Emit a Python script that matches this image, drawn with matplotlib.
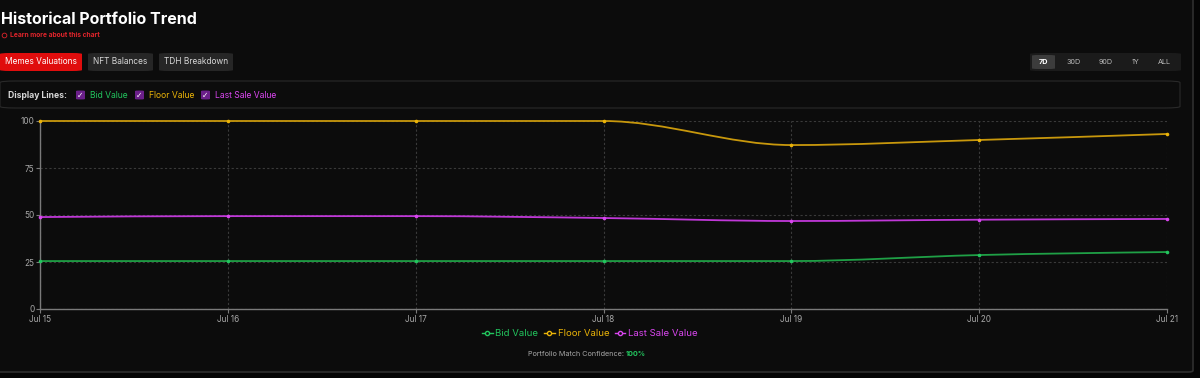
import matplotlib
matplotlib.use("Agg")
import matplotlib.pyplot as plt
import numpy as np
from matplotlib.path import Path
from matplotlib.patches import PathPatch, FancyBboxPatch
from matplotlib.lines import Line2D

plt.rcParams['font.family'] = ['Inter', 'DejaVu Sans']

# data
dates = ["Jul 15", "Jul 16", "Jul 17", "Jul 18", "Jul 19", "Jul 20", "Jul 21"]
bid_value = [25.5, 25.5, 25.5, 25.5, 25.5, 28.7, 30.3]
floor_value = [100, 100, 100, 100, 87.2, 89.9, 93.1]
last_sale_value = [48.9, 49.4, 49.4, 48.4, 46.8, 47.5, 47.9]
series_names = ["Bid Value", "Floor Value", "Last Sale Value"]
series_colors = ["#22c55e", "#eab308", "#d946ef"]
line_colors = ["#1fa046", "#c8980c", "#c038d8"]
tabs = ["Memes Valuations", "NFT Balances", "TDH Breakdown"]
ranges = ["7D", "30D", "90D", "1Y", "ALL"]

W, H = 1200, 378
BG = "#0c0c0c"


def monotone_path(x, y):
    # monotone cubic (like d3 curveMonotoneX) as bezier path
    x = np.asarray(x, float)
    y = np.asarray(y, float)
    h = np.diff(x)
    s = np.diff(y) / h
    n = len(x)
    t = np.zeros(n)
    for i in range(1, n - 1):
        s0, s1 = s[i - 1], s[i]
        p = (s0 * h[i] + s1 * h[i - 1]) / (h[i - 1] + h[i])
        t[i] = (np.sign(s0) + np.sign(s1)) * min(abs(s0), abs(s1), 0.5 * abs(p))
    t[0] = (3 * s[0] - t[1]) / 2 if n > 2 else s[0]
    t[-1] = (3 * s[-1] - t[-2]) / 2 if n > 2 else s[-1]
    verts = [(x[0], y[0])]
    codes = [Path.MOVETO]
    for i in range(n - 1):
        d = h[i] / 3
        verts += [(x[i] + d, y[i] + t[i] * d), (x[i + 1] - d, y[i + 1] - t[i + 1] * d), (x[i + 1], y[i + 1])]
        codes += [Path.CURVE4] * 3
    return Path(verts, codes)


fig = plt.figure(figsize=(12, 3.78), dpi=100, facecolor="#050505")

# panel background
fig.patches.append(FancyBboxPatch((-20 / W, 1 - 372 / H), 1213 / W, 392 / H,
                                  boxstyle="round,pad=0,rounding_size=0.004",
                                  transform=fig.transFigure, facecolor=BG,
                                  edgecolor="#2e2e2e", linewidth=1.2, zorder=-10))


def px_box(x0, y0, x1, y1, fc, ec="none", r=3):
    fig.patches.append(FancyBboxPatch((x0 / W, 1 - y1 / H), (x1 - x0) / W, (y1 - y0) / H,
                                      boxstyle="round,pad=0,rounding_size=%f" % (r / H),
                                      transform=fig.transFigure, facecolor=fc,
                                      edgecolor=ec, linewidth=0.8, zorder=1,
                                      mutation_aspect=H / W))


def px_text(x, y, s, **kw):
    fig.text(x / W, 1 - y / H, s, **kw)


# header
px_text(1, 19, "Historical Portfolio Trend", color="white", fontsize=11.5,
        fontweight="bold", va="center", ha="left")
fig.add_artist(Line2D([4 / W], [1 - 35 / H], marker="o", markersize=3.4,
                      markerfacecolor="none", markeredgecolor="#e0242b",
                      markeredgewidth=0.6, transform=fig.transFigure))
px_text(10, 35, "Learn more about this chart", color="#e0242b", fontsize=4.8,
        fontweight="bold", va="center")

# tabs
tab_x = [(0, 82), (88, 153), (159, 233)]
for i, (name, (a, b)) in enumerate(zip(tabs, tab_x)):
    px_box(a, 53, b, 71, "#e00d0d" if i == 0 else "#262626")
    px_text((a + b) / 2, 62, name, color="white" if i == 0 else "#d8d8d8",
            fontsize=6, ha="center", va="center")

# range selector
px_box(1030, 53, 1181, 71, "#1b1b1b")
px_box(1032, 55, 1055, 69, "#3c3c3c", r=2)
range_x = [1043.5, 1074, 1106, 1136, 1164]
for name, x in zip(ranges, range_x):
    px_text(x, 62, name, color="white" if name == "7D" else "#bdbdbd",
            fontsize=5.2, ha="center", va="center",
            fontweight="bold" if name == "7D" else "normal")

# display lines box
px_box(0, 81, 1180, 108, BG, ec="#2a2a2a", r=5)
px_text(8, 95, "Display Lines:", color="#d8d8d8", fontsize=6.2, fontweight="bold", va="center")
check_x = [76, 135, 201]
for name, col, cx in zip(series_names, series_colors, check_x):
    px_box(cx, 90.5, cx + 9, 99.5, "#6b1f8a", r=1.5)
    px_text(cx + 4.5, 95.2, "✓", color="white", fontsize=5.5, ha="center", va="center",
            fontweight="bold", family=["DejaVu Sans"])
    px_text(cx + 14, 95, name, color=col, fontsize=6.2, va="center")

# chart
ax = fig.add_axes([40 / W, (H - 309) / H, 1127 / W, 188 / H], zorder=2)
ax.set_facecolor(BG)
x = np.arange(len(dates))
for vals, lc, mc in zip([bid_value, floor_value, last_sale_value], line_colors, series_colors):
    ax.add_patch(PathPatch(monotone_path(x, vals), facecolor="none", edgecolor=lc,
                           linewidth=1.3, zorder=3, clip_on=False))
    ax.plot(x, vals, linestyle="none", marker="o", markersize=2.6, color=mc,
            markeredgewidth=0, zorder=4, clip_on=False)

ax.set_xlim(0, len(dates) - 1)
ax.set_ylim(0, 100)
ax.set_xticks(x)
ax.set_xticklabels(dates)
ax.set_yticks([0, 25, 50, 75, 100])
ax.grid(True, color="#3a3a3a", linestyle=(0, (2, 2)), linewidth=0.8)
for sp in ["top", "right"]:
    ax.spines[sp].set_visible(False)
for sp in ["left", "bottom"]:
    ax.spines[sp].set_color("#7a7a7a")
    ax.spines[sp].set_linewidth(1)
ax.tick_params(colors="#7a7a7a", labelcolor="#a8a8a8", labelsize=5.9, length=3, width=0.8, pad=1)
ax.set_axisbelow(True)

# legend
handles = [Line2D([], [], color=c, marker="o", markersize=3, markerfacecolor=BG,
                  markeredgecolor=c, linewidth=1) for c in series_colors]
leg = fig.legend(handles, series_names, loc="center", bbox_to_anchor=(590 / W, 1 - 334 / H),
                 ncol=3, frameon=False, fontsize=6.9, handlelength=1.1, handletextpad=0.3,
                 columnspacing=0.6)
for t, c in zip(leg.get_texts(), series_colors):
    t.set_color(c)

px_text(625.5, 354, "Portfolio Match Confidence: ", color="#a8a8a8", fontsize=5.2,
        ha="right", va="center")
px_text(626, 354, "100%", color="#22c55e", fontsize=5.2, fontweight="bold",
        ha="left", va="center")

fig.savefig("out.png", dpi=100, facecolor=fig.get_facecolor())
